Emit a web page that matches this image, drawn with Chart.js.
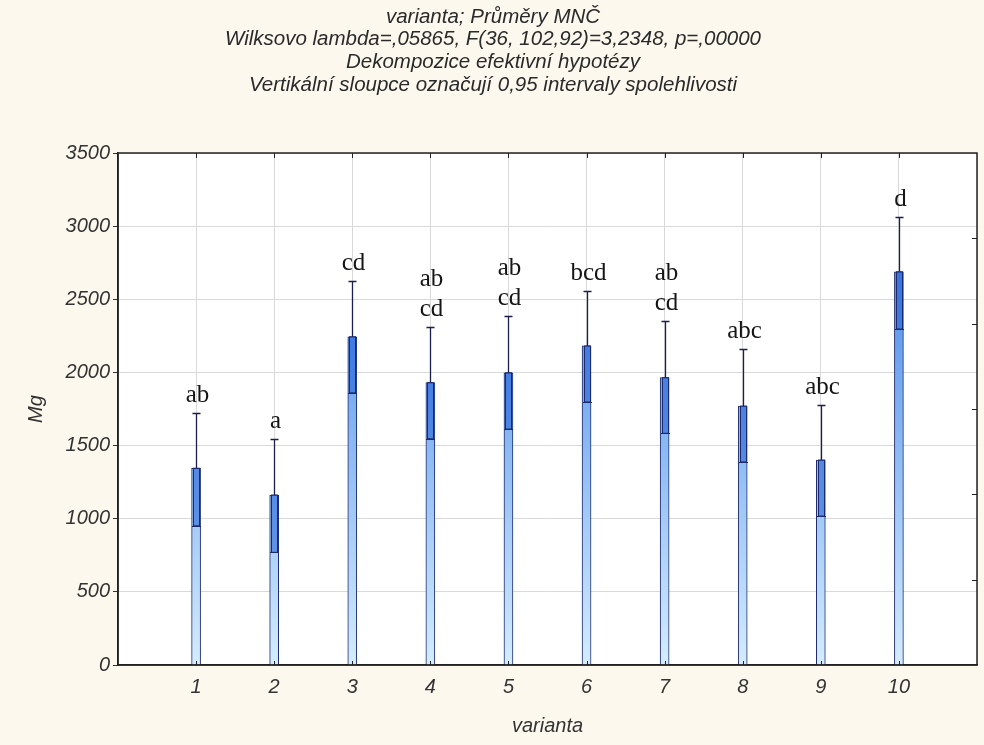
<!DOCTYPE html>
<html><head><meta charset="utf-8">
<script src="https://cdn.jsdelivr.net/npm/chart.js@4.4.1/dist/chart.umd.min.js"></script>
<style>html,body{margin:0;padding:0;background:#fcf8ee;}#wrap{width:984px;height:745px;}</style>
</head><body><div id="wrap"><canvas id="c" width="984" height="745"></canvas></div>
<script>
// ---- data ----
const categories = [1, 2, 3, 4, 5, 6, 7, 8, 9, 10];
const means   = [1345, 1162, 2244, 1930, 1998, 2181, 1964, 1770, 1401, 2688];
const upperCI = [1723, 1543, 2625, 2310, 2384, 2559, 2354, 2158, 1777, 3065];
const lowerCI = [ 952,  770, 1861, 1547, 1613, 1798, 1584, 1388, 1018, 2297];
const groupLetters = [["ab"], ["a"], ["cd"], ["ab", "cd"], ["ab", "cd"], ["bcd"], ["ab", "cd"], ["abc"], ["abc"], ["d"]];
const yTicks = [0, 500, 1000, 1500, 2000, 2500, 3000, 3500];
const rightTicks = [1, 2, 3, 4, 5];
const titleLines = [
  "varianta; Průměry MNČ",
  "Wilksovo lambda=,05865, F(36, 102,92)=3,2348, p=,00000",
  "Dekompozice efektivní hypotézy",
  "Vertikální sloupce označují 0,95 intervaly spolehlivosti"
];
const xTitle = "varianta";
const yTitle = "Mg";

const SANS = '"Liberation Sans", Arial, sans-serif';
const SERIF = '"Liberation Serif", "Times New Roman", serif';

const decorPlugin = {
  id: 'decor',
  beforeDraw(chart) {
    const {ctx, chartArea: ca} = chart;
    ctx.save();
    ctx.fillStyle = '#fcf8ee';
    ctx.fillRect(0, 0, chart.width, chart.height);
    ctx.fillStyle = '#ffffff';
    ctx.fillRect(ca.left, ca.top, ca.right - ca.left, ca.bottom - ca.top);
    ctx.restore();
  },
  afterDatasetsDraw(chart) {
    const {ctx} = chart;
    const xs = chart.scales.x, ys = chart.scales.y;
    ctx.save();
    categories.forEach((c, i) => {
      const cx = Math.round(xs.getPixelForValue(c)) + 0.5;
      const yM = ys.getPixelForValue(means[i]);
      const yL = ys.getPixelForValue(lowerCI[i]);
      const yU = ys.getPixelForValue(upperCI[i]);
      // inner CI box (lower bound to mean)
      ctx.fillStyle = 'rgba(35, 95, 215, 0.55)';
      ctx.fillRect(cx - 3, yM, 6, yL - yM);
      ctx.strokeStyle = '#1d2a6a';
      ctx.lineWidth = 1;
      ctx.strokeRect(cx - 3, yM, 6, yL - yM);
      ctx.beginPath();
      ctx.moveTo(cx - 4.5, Math.round(yL) + 0.5);
      ctx.lineTo(cx + 4.5, Math.round(yL) + 0.5);
      ctx.stroke();
      // whisker to upper bound
      ctx.strokeStyle = '#1b1f4e';
      ctx.lineWidth = 1.3;
      ctx.beginPath();
      ctx.moveTo(cx, yM);
      ctx.lineTo(cx, yU);
      ctx.moveTo(cx - 4, Math.round(yU) + 0.5);
      ctx.lineTo(cx + 4, Math.round(yU) + 0.5);
      ctx.stroke();
      // group letters
      ctx.fillStyle = '#151515';
      ctx.font = '25px ' + SERIF;
      ctx.textAlign = 'center';
      ctx.textBaseline = 'alphabetic';
      const lines = groupLetters[i];
      lines.forEach((t, k) => {
        const base = yU - 11 - (lines.length - 1 - k) * 30;
        ctx.fillText(t, cx + 1, base);
      });
    });
    ctx.restore();
  },
  afterDraw(chart) {
    const {ctx, chartArea: ca} = chart;
    const xs = chart.scales.x, y2 = chart.scales.y2;
    ctx.save();
    ctx.strokeStyle = '#222';
    ctx.lineWidth = 1.5;
    ctx.strokeRect(ca.left, ca.top, ca.right - ca.left, ca.bottom - ca.top);
    ctx.lineWidth = 1;
    ctx.beginPath();
    categories.forEach(c => {
      const px = Math.round(xs.getPixelForValue(c)) + 0.5;
      ctx.moveTo(px, ca.top); ctx.lineTo(px, ca.top + 5);
      ctx.moveTo(px, ca.bottom); ctx.lineTo(px, ca.bottom - 4);
    });
    rightTicks.forEach(v => {
      const py = Math.round(y2.getPixelForValue(v)) + 0.5;
      ctx.moveTo(ca.right, py); ctx.lineTo(ca.right - 5, py);
    });
    ctx.stroke();
    // chart title
    ctx.fillStyle = '#2a2a2a';
    ctx.font = 'italic 20.5px ' + SANS;
    ctx.textAlign = 'center';
    ctx.textBaseline = 'middle';
    titleLines.forEach((t, k) => ctx.fillText(t, 493, 17 + k * 22.6));
    ctx.restore();
  }
};

new Chart(document.getElementById('c'), {
  type: 'bar',
  data: {
    datasets: [{
      data: categories.map((c, i) => ({x: c, y: means[i]})),
      barThickness: 9,
      borderColor: '#1d2b6b',
      borderWidth: 1,
      backgroundColor: (ctx) => {
        const ca = ctx.chart.chartArea;
        if (!ca) return '#8cc0f4';
        const g = ctx.chart.ctx.createLinearGradient(0, ca.bottom, 0, ca.top);
        g.addColorStop(0, '#d4ecfd');
        g.addColorStop(1, '#2a74e6');
        return g;
      }
    }]
  },
  options: {
    responsive: false,
    animation: false,
    devicePixelRatio: 1,
    layout: {padding: {top: 153, left: 24, right: 7, bottom: 7}},
    plugins: {legend: {display: false}, tooltip: {enabled: false}, title: {display: false}},
    scales: {
      x: {
        type: 'linear', min: 0, max: 11, offset: false,
        afterBuildTicks: s => { s.ticks = [0, ...categories, 11].map(v => ({value: v})); },
        afterFit: s => { s.height = 73; s.paddingLeft = 0; s.paddingRight = 0; },
        ticks: {
          callback: v => categories.includes(v) ? String(v) : '',
          font: {family: SANS, size: 20, style: 'italic'}, color: '#333', padding: 10, maxRotation: 0, autoSkip: false
        },
        grid: {color: '#d9d9d9', drawTicks: false, offset: false},
        border: {color: '#222', width: 1.5},
        title: {display: true, text: xTitle, font: {family: SANS, size: 20, style: 'italic'}, color: '#333', padding: 0}
      },
      y: {
        type: 'linear', min: 0, max: 3500,
        afterBuildTicks: s => { s.ticks = yTicks.map(v => ({value: v})); },
        afterFit: s => { s.width = 94; },
        ticks: {callback: v => String(v), font: {family: SANS, size: 20, style: 'italic'}, color: '#333', padding: 3},
        grid: {color: '#d9d9d9', tickLength: 5, tickColor: '#333'},
        border: {color: '#222', width: 1.5},
        title: {display: true, text: yTitle, font: {family: SANS, size: 20, style: 'italic'}, color: '#333', padding: 0}
      },
      y2: {
        type: 'linear', position: 'right', min: 0, max: 6,
        afterFit: s => { s.width = 0; s.paddingTop = 0; s.paddingBottom = 0; },
        ticks: {display: false},
        grid: {display: false},
        border: {display: false}
      }
    }
  },
  plugins: [decorPlugin]
});
</script>
</body></html>
